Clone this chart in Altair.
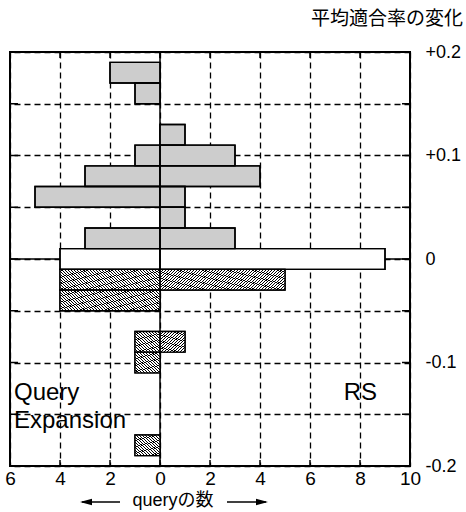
import altair as alt
import pandas as pd

# ---- data ----
bins = [0.18, 0.16, 0.14, 0.12, 0.10, 0.08, 0.06, 0.04, 0.02, 0.00,
        -0.02, -0.04, -0.06, -0.08, -0.10, -0.12, -0.14, -0.16, -0.18]
qe_counts = [2, 1, 0, 0, 1, 3, 5, 0, 3, 4, 4, 4, 0, 1, 1, 0, 0, 0, 1]
rs_counts = [0, 0, 0, 1, 3, 4, 1, 1, 3, 9, 5, 0, 0, 1, 0, 0, 0, 0, 0]
bin_width = 0.02
x_ticks = [-6, -4, -2, 0, 2, 4, 6, 8, 10]
y_ticks = [-0.2, -0.15, -0.1, -0.05, 0.0, 0.05, 0.1, 0.15, 0.2]
title_text = "平均適合率の変化"
xlabel_text = "queryの数"
left_label = "Query\nExpansion"
right_label = "RS"

W, H = 400, 414
LATIN = "Liberation Sans"
CJK = "Noto Sans CJK JP"


def cls_of(b):
    if abs(b) < 1e-9:
        return "zero"
    return "gain" if b > 0 else "loss"


bar_rows, cell_rows = [], []
for b, q, r in zip(bins, qe_counts, rs_counts):
    c = cls_of(b)
    lo, hi = b - bin_width / 2, b + bin_width / 2
    if q:
        bar_rows.append(dict(side="QE", cls=c, x0=-q, x1=0, y0=lo, y1=hi))
    if r:
        bar_rows.append(dict(side="RS", cls=c, x0=0, x1=r, y0=lo, y1=hi))
    if c == "loss":
        for k in range(q):
            cell_rows.append(dict(side="QE", x0=-(k + 1), x1=-k, y0=lo, y1=hi))
        for k in range(r):
            cell_rows.append(dict(side="RS", x0=k, x1=k + 1, y0=lo, y1=hi))

bars_df = pd.DataFrame(bar_rows)
cells_df = pd.DataFrame(cell_rows)

xs = alt.Scale(domain=[-6, 10], nice=False, zero=False)
ys = alt.Scale(domain=[-0.2, 0.2], nice=False, zero=False)

x_axis = alt.Axis(values=x_ticks, labelExpr="'' + abs(datum.value)", grid=True,
                  gridDash=[6, 4], gridColor="black", gridWidth=1.3, gridOpacity=1,
                  ticks=False, domain=False, labelFont=LATIN, labelFontSize=19,
                  labelColor="black", labelPadding=3, labelFlush=False,
                  labelOverlap=False, title=None)
y_axis = alt.Axis(orient="right", values=y_ticks,
                  labelExpr="abs(datum.value*100 % 10) > 1 ? '' : (datum.value > 0.001 ? '+' + format(datum.value, '.1f') : (datum.value < -0.001 ? '-' + format(abs(datum.value), '.1f') : '\u00a00'))",
                  grid=True, gridDash=[6, 4], gridColor="black", gridWidth=1.3,
                  gridOpacity=1, ticks=False, domain=False, labelFont=LATIN,
                  labelFontSize=18, labelColor="black", labelPadding=15,
                  labelAlign="left", labelBaseline="middle", labelOverlap=False,
                  title=None)


def X(field):
    return alt.X(field, scale=xs, axis=x_axis)


def Y(field):
    return alt.Y(field, scale=ys, axis=y_axis)


def stripes(n, frac):
    stops = []
    for k in range(n):
        a = round(k / n, 5)
        m = round((k + frac) / n, 5)
        e = round((k + 1) / n, 5)
        stops += [alt.GradientStop(color="#000000", offset=a),
                  alt.GradientStop(color="#000000", offset=m),
                  alt.GradientStop(color="#ffffff", offset=m),
                  alt.GradientStop(color="#ffffff", offset=e)]
    return stops


grad_back = alt.LinearGradient(gradient="linear", stops=stripes(16, 0.40),
                               x1=0, y1=1, x2=1, y2=0)   # "\\" hatch
grad_fwd = alt.LinearGradient(gradient="linear", stops=stripes(16, 0.40),
                              x1=0, y1=0, x2=1, y2=1)    # "//" hatch

one = pd.DataFrame({"v": [0]})

zero_h = alt.Chart(one).mark_rule(color="black", strokeWidth=1.3).encode(
    y=Y("v:Q"))
zero_v = alt.Chart(one).mark_rule(color="black", strokeWidth=1.5).encode(
    x=X("v:Q"))

bars = alt.Chart(bars_df).mark_rect(stroke="black", strokeWidth=1.4).encode(
    x=X("x0:Q"), x2="x1:Q", y=Y("y0:Q"), y2="y1:Q",
    fill=alt.Fill("cls:N", scale=alt.Scale(domain=["gain", "zero", "loss"],
                                           range=["#cdcdcd", "#ffffff", "#ffffff"]),
                  legend=None),
)

hatch_l = alt.Chart(cells_df).transform_filter("datum.side == 'QE'").mark_rect(
    fill=grad_back, strokeWidth=0).encode(
    x=X("x0:Q"), x2="x1:Q", y=Y("y0:Q"), y2="y1:Q")
hatch_r = alt.Chart(cells_df).transform_filter("datum.side == 'RS'").mark_rect(
    fill=grad_fwd, strokeWidth=0).encode(
    x=X("x0:Q"), x2="x1:Q", y=Y("y0:Q"), y2="y1:Q")

outline = alt.Chart(bars_df).mark_rect(fillOpacity=0, stroke="black",
                                       strokeWidth=1.4).encode(
    x=X("x0:Q"), x2="x1:Q", y=Y("y0:Q"), y2="y1:Q")

xt = pd.DataFrame({"v": x_ticks})
yt = pd.DataFrame({"v": y_ticks})
tick_top = alt.Chart(xt).mark_rule(color="black", strokeWidth=1.5).encode(
    x=X("v:Q"), y=alt.value(0), y2=alt.value(6))
tick_bot = alt.Chart(xt).mark_rule(color="black", strokeWidth=1.5).encode(
    x=X("v:Q"), y=alt.value(H - 6), y2=alt.value(H))
tick_left = alt.Chart(yt).mark_rule(color="black", strokeWidth=1.5).encode(
    y=Y("v:Q"), x=alt.value(0), x2=alt.value(8))
tick_right = alt.Chart(yt).mark_rule(color="black", strokeWidth=1.5).encode(
    y=Y("v:Q"), x=alt.value(W - 8), x2=alt.value(W))

title = alt.Chart(pd.DataFrame({"t": [title_text]})).mark_text(
    font=CJK, fontSize=19, align="right", baseline="middle", color="black").encode(
    text="t:N", x=alt.value(453), y=alt.value(-33))

xlabel = alt.Chart(pd.DataFrame({"t": [xlabel_text]})).mark_text(
    font=f"{LATIN}, '{CJK}'", fontSize=18, align="center", baseline="middle",
    color="black").encode(text="t:N", x=alt.value(163), y=alt.value(449))

arrow_l_line = alt.Chart(one).mark_rule(color="black", strokeWidth=1.3).encode(
    x=alt.value(72), x2=alt.value(110), y=alt.value(450))
arrow_r_line = alt.Chart(one).mark_rule(color="black", strokeWidth=1.3).encode(
    x=alt.value(217), x2=alt.value(256), y=alt.value(450))
arrow_l_head = alt.Chart(one).mark_point(
    shape="M -1 0 L 1 -0.55 L 1 0.55 Z", filled=True, size=144, color="black",
    opacity=1).encode(x=alt.value(76), y=alt.value(450))
arrow_r_head = alt.Chart(one).mark_point(
    shape="M 1 0 L -1 -0.55 L -1 0.55 Z", filled=True, size=144, color="black",
    opacity=1).encode(x=alt.value(252), y=alt.value(450))

qe_text = alt.Chart(pd.DataFrame({"t": [left_label]})).mark_text(
    font=LATIN, fontSize=24, align="left", baseline="alphabetic", lineBreak="\n",
    lineHeight=28, color="black").encode(text="t:N", x=alt.value(4), y=alt.value(348))
rs_text = alt.Chart(pd.DataFrame({"t": [right_label]})).mark_text(
    font=LATIN, fontSize=24, align="right", baseline="alphabetic",
    color="black").encode(text="t:N", x=alt.value(367), y=alt.value(348))

chart = alt.layer(
    zero_h, zero_v, bars, hatch_l, hatch_r, outline,
    tick_top, tick_bot, tick_left, tick_right,
    title, xlabel, arrow_l_line, arrow_r_line, arrow_l_head, arrow_r_head,
    qe_text, rs_text,
).properties(
    width=W, height=H,
    autosize=alt.AutoSizeParams(type="none"),
    padding={"left": 10, "top": 52, "right": 56, "bottom": 46},
    background="white",
).configure_view(stroke="black", strokeWidth=2)

chart.save("out.html", embed_options={"renderer": "svg", "actions": False})
